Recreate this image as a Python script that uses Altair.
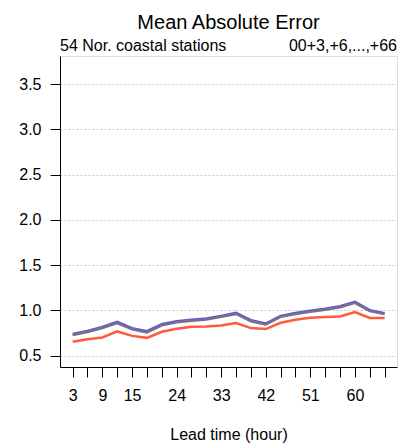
import altair as alt
import pandas as pd

lead = [3, 6, 9, 12, 15, 18, 21, 24, 27, 30, 33, 36, 39, 42, 45, 48, 51, 54, 57, 60, 63, 66]
mae_blue = [0.739, 0.772, 0.817, 0.872, 0.802, 0.769, 0.846, 0.880, 0.895, 0.909, 0.939, 0.972,
            0.891, 0.854, 0.939, 0.972, 0.995, 1.017, 1.046, 1.095, 1.002, 0.969]
mae_grey = [0.727, 0.760, 0.805, 0.860, 0.790, 0.757, 0.834, 0.868, 0.884, 0.898, 0.928, 0.960,
            0.879, 0.843, 0.928, 0.960, 0.984, 1.006, 1.035, 1.083, 0.991, 0.958]
mae_red = [0.652, 0.68, 0.70, 0.767, 0.718, 0.696, 0.763, 0.796, 0.818, 0.822, 0.833, 0.859,
           0.804, 0.793, 0.863, 0.896, 0.919, 0.926, 0.933, 0.981, 0.915, 0.915]
series_names = ["A", "B", "C"]
series_colors = ["#5a5adc", "#7a6e8a", "#ff5a3c"]

x_ticks = list(range(3, 67, 3))
x_labels_shown = [3, 9, 15, 24, 33, 42, 51, 60]
y_ticks = [0.5, 1.0, 1.5, 2.0, 2.5, 3.0, 3.5]

rows = []
for name, vals in zip(series_names, [mae_blue, mae_grey, mae_red]):
    for l, v in zip(lead, vals):
        rows.append({"lead": l, "mae": v, "series": name})
df = pd.DataFrame(rows)

FONT = "Liberation Sans"

x_enc = alt.X("lead:Q", scale=alt.Scale(domain=[0.45, 68.5], nice=False, zero=False),
              axis=alt.Axis(values=x_ticks,
                            labelExpr="indexof(" + str(x_labels_shown) + ", datum.value) >= 0 ? datum.label : ''",
                            title="Lead time (hour)", grid=False, tickSize=10, tickColor="black",
                            domainColor="black", labelFontSize=16, titleFontSize=16,
                            titleFontWeight="normal", labelFont=FONT, titleFont=FONT,
                            labelPadding=10, titlePadding=23, labelColor="black",
                            titleColor="black", labelFlush=False, labelOverlap=False))
y_enc = alt.Y("mae:Q", scale=alt.Scale(domain=[0.374, 3.81], nice=False, zero=False),
              axis=alt.Axis(values=y_ticks, format=".1f", title=None, tickSize=10,
                            tickColor="black", domainColor="black", labelFontSize=16,
                            labelFont=FONT, labelPadding=9, labelColor="black",
                            grid=True, gridDash=[2, 2], gridColor="#c8c8c8"))

lines = alt.Chart(df).mark_line(strokeWidth=2.5).encode(
    x=x_enc, y=y_enc,
    color=alt.Color("series:N", scale=alt.Scale(domain=series_names, range=series_colors), legend=None),
    order=alt.Order("lead:Q"),
)

title = alt.Chart(pd.DataFrame({"t": ["Mean Absolute Error"]})).mark_text(
    align="center", baseline="alphabetic", fontSize=20, font=FONT, color="black"
).encode(text="t:N", x=alt.value(168.5), y=alt.value(-27.5))

sub_left = alt.Chart(pd.DataFrame({"t": ["54 Nor. coastal stations"]})).mark_text(
    align="left", baseline="alphabetic", fontSize=16, font=FONT, color="black"
).encode(text="t:N", x=alt.value(0), y=alt.value(-5.5))

sub_right = alt.Chart(pd.DataFrame({"t": ["00+3,+6,...,+66"]})).mark_text(
    align="right", baseline="alphabetic", fontSize=16, font=FONT, color="black"
).encode(text="t:N", x=alt.value(337), y=alt.value(-5.5))

chart = alt.layer(lines, title, sub_left, sub_right).properties(
    width=337, height=311,
    autosize=alt.AutoSizeParams(type="none"),
    padding={"left": 52, "top": 48, "right": 2, "bottom": 78},
).configure_view(stroke="#777777", strokeWidth=1).configure(background="white")

chart.save("out.html", embed_options={"renderer": "svg", "actions": False})
